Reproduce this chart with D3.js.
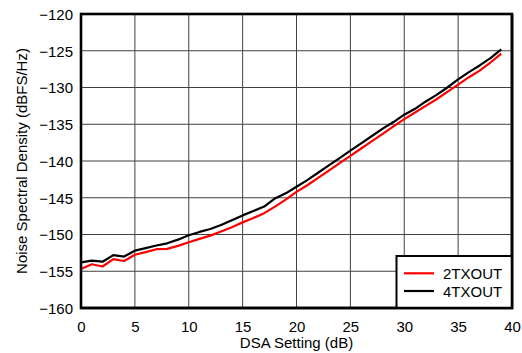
<!DOCTYPE html>
<html><head><meta charset="utf-8">
<script src="https://cdn.jsdelivr.net/npm/d3@7"></script>
<style>body{margin:0;background:#fff}svg{display:block;font-family:"Liberation Sans",Arial,sans-serif}</style>
</head><body><div id="chart"></div>
<script>
const dsa = d3.range(0, 40);
const tx4 = [-153.8,-153.55,-153.7,-152.8,-153.0,-152.2,-151.85,-151.5,-151.2,-150.7,
  -150.1,-149.65,-149.25,-148.7,-148.05,-147.4,-146.8,-146.2,-145.1,-144.4,
  -143.5,-142.6,-141.6,-140.6,-139.6,-138.6,-137.6,-136.6,-135.6,-134.7,
  -133.7,-132.9,-131.9,-131.0,-130.0,-128.9,-127.9,-127.0,-126.0,-124.8];
const tx2 = [-154.7,-154.05,-154.35,-153.35,-153.6,-152.75,-152.4,-152.0,-151.95,-151.55,
  -151.05,-150.6,-150.15,-149.6,-149.0,-148.35,-147.75,-147.1,-146.2,-145.25,
  -144.2,-143.3,-142.3,-141.3,-140.3,-139.3,-138.3,-137.3,-136.3,-135.3,
  -134.3,-133.4,-132.5,-131.6,-130.6,-129.6,-128.6,-127.7,-126.6,-125.4];
const xTicks = [0,5,10,15,20,25,30,35,40];
const yTicks = [-160,-155,-150,-145,-140,-135,-130,-125,-120];
const seriesNames = ["2TXOUT","4TXOUT"];
const seriesColors = ["#ff0000","#000000"];
const xTitle = "DSA Setting (dB)";
const yTitle = "Noise Spectral Density (dBFS/Hz)";

const W = 522, H = 353;
const svg = d3.select("#chart").append("svg").attr("width", W).attr("height", H);
const x = d3.scaleLinear().domain([0,40]).range([81,512]);
const y = d3.scaleLinear().domain([-160,-120]).range([308,14]);

// gridlines
const g = svg.append("g");
g.selectAll(".vx").data(xTicks.slice(1,-1)).enter().append("line")
  .attr("x1", d=>x(d)).attr("x2", d=>x(d)).attr("y1", y(-120)).attr("y2", y(-160))
  .attr("stroke", "#404040").attr("stroke-width", 1);
g.selectAll(".hy").data(yTicks.slice(1,-1)).enter().append("line")
  .attr("y1", d=>y(d)).attr("y2", d=>y(d)).attr("x1", x(0)).attr("x2", x(40))
  .attr("stroke", "#404040").attr("stroke-width", 1);

// axes labels
const xAxis = d3.axisBottom(x).tickValues(xTicks).tickSize(0).tickPadding(0).tickFormat(d3.format("d"));
const xa = svg.append("g").attr("transform", `translate(0,${y(-160)})`).call(xAxis);
xa.select(".domain").remove();
xa.selectAll("text").attr("font-size", 15).attr("fill", "#000").attr("font-family", "Liberation Sans, Arial, sans-serif")
  .attr("dy", null).attr("y", 24);

const yAxis = d3.axisLeft(y).tickValues(yTicks).tickSize(0).tickPadding(8).tickFormat(d3.format("d"));
const ya = svg.append("g").attr("transform", `translate(${x(0)},0)`).call(yAxis);
ya.select(".domain").remove();
ya.selectAll("text").attr("font-size", 15).attr("fill", "#000").attr("font-family", "Liberation Sans, Arial, sans-serif")
  .attr("dy", "0.36em");

// series
const line = d3.line().x((d,i)=>x(dsa[i])).y(d=>y(d));
[tx2, tx4].forEach((s, k) => {
  svg.append("path").datum(s).attr("d", line).attr("fill", "none")
    .attr("stroke", seriesColors[k]).attr("stroke-width", 2.2).attr("stroke-linejoin", "round");
});

// border
svg.append("rect").attr("x", x(0)).attr("y", y(-120)).attr("width", x(40)-x(0)).attr("height", y(-160)-y(-120))
  .attr("fill", "none").attr("stroke", "#000").attr("stroke-width", 2.6);

// legend
const lg = svg.append("g");
lg.append("rect").attr("x", 396.5).attr("y", 256).attr("width", x(40)-396.5).attr("height", y(-160)-256)
  .attr("fill", "#fff").attr("stroke", "#000").attr("stroke-width", 2);
seriesNames.forEach((n, k) => {
  const ly = 273.3 + k*17.7;
  lg.append("line").attr("x1", 404).attr("x2", 434).attr("y1", ly).attr("y2", ly)
    .attr("stroke", seriesColors[k]).attr("stroke-width", 2.2);
  lg.append("text").attr("x", 443).attr("y", ly + 6).attr("font-size", 15).attr("fill", "#000").text(n);
});
// redraw plot border over legend edges
svg.append("path").attr("d", `M${x(40)},${y(-120)}V${y(-160)}H${x(0)}`).attr("fill","none").attr("stroke","#000").attr("stroke-width",2.6);

// titles
svg.append("text").attr("x", (x(0)+x(40))/2).attr("y", 348).attr("text-anchor", "middle")
  .attr("font-size", 15).attr("fill", "#000").text(xTitle);
svg.append("text").attr("transform", `translate(27,${(y(-120)+y(-160))/2}) rotate(-90)`).attr("text-anchor", "middle")
  .attr("font-size", 15).attr("fill", "#000").text(yTitle);
</script></body></html>
